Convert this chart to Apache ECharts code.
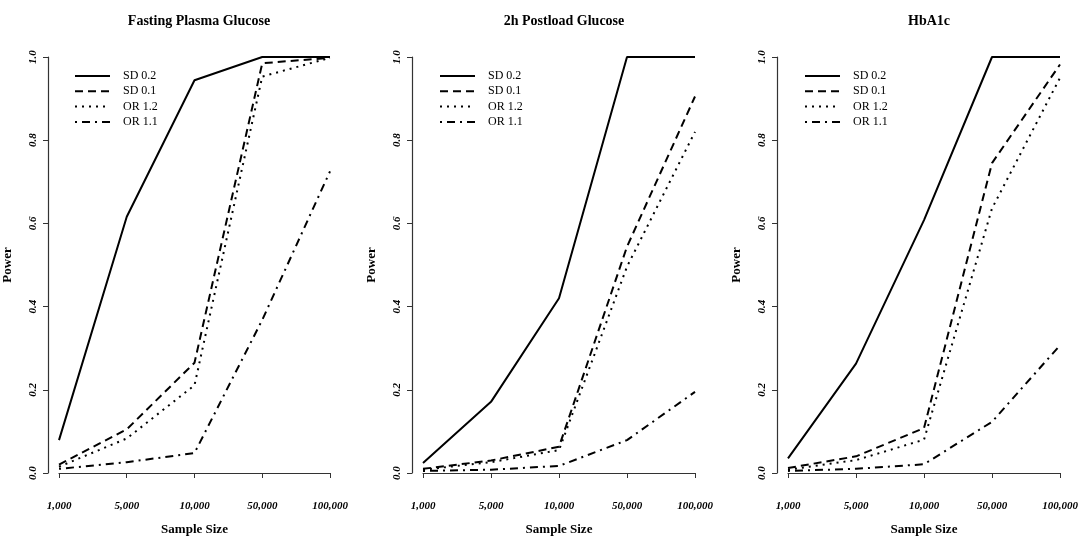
<!DOCTYPE html>
<html>
<head>
<meta charset="utf-8">
<title>Power by sample size</title>
<script src="https://cdn.jsdelivr.net/npm/echarts@6/dist/echarts.min.js"></script>
<style>
	html,body{margin:0;padding:0;background:#fff;}
	#chart{width:1084px;height:543px;}
</style>
</head>
<body>
<div id="chart"></div>
<script>
// sample sizes on the x axis (evenly spaced categories)
var sampleSizes = ['1,000','5,000','10,000','50,000','100,000'];
var seriesNames = ['SD 0.2','SD 0.1','OR 1.2','OR 1.1'];
var panelTitles = ['Fasting Plasma Glucose','2h Postload Glucose','HbA1c'];

// power values
var fpgSd02 = [0.079, 0.616, 0.944, 1.0, 1.0];
var fpgSd01 = [0.020, 0.105, 0.265, 0.985, 0.998];
var fpgOr12 = [0.015, 0.083, 0.211, 0.953, 0.998];
var fpgOr11 = [0.010, 0.026, 0.048, 0.368, 0.725];

var ohSd02 = [0.024, 0.171, 0.420, 1.0, 1.0];
var ohSd01 = [0.010, 0.030, 0.063, 0.544, 0.905];
var ohOr12 = [0.008, 0.026, 0.055, 0.496, 0.820];
var ohOr11 = [0.005, 0.008, 0.017, 0.079, 0.195];

var hbSd02 = [0.035, 0.263, 0.608, 1.0, 1.0];
var hbSd01 = [0.012, 0.040, 0.108, 0.745, 0.982];
var hbOr12 = [0.008, 0.031, 0.080, 0.636, 0.950];
var hbOr11 = [0.005, 0.010, 0.021, 0.123, 0.307];

var panelData = [
	[fpgSd02, fpgSd01, fpgOr12, fpgOr11],
	[ohSd02, ohSd01, ohOr12, ohOr11],
	[hbSd02, hbSd01, hbOr12, hbOr11]
];

var SERIF = '"Liberation Serif", "DejaVu Serif", serif';
var dashTypes = ['solid', [8,5], [2,5], [2,5,8,5]];
var panelLeft = [58, 423, 788];
var plotWidth = 272;

function buildOption(){
	var grids=[], xAxes=[], yAxes=[], series=[], titles=[], legends=[];
	for(var p=0;p<3;p++){
		grids.push({left:panelLeft[p], width:plotWidth, top:57, height:416});
		titles.push({
			text: panelTitles[p],
			left: panelLeft[p] + plotWidth/2,
			top: 9,
			textAlign: 'center',
			textStyle:{fontFamily:SERIF, fontWeight:'bold', fontSize:14, color:'#000'}
		});
		//legend: line only, the dot symbol is hidden
		legends.push({
			data: seriesNames,
			orient: 'vertical',
			left: panelLeft[p] + 16,
			top: 70,
			padding: 0,
			itemWidth: 35,
			itemHeight: 12,
			itemGap: 3.3,
			selectedMode: false,
			itemStyle:{opacity:0},
			textStyle:{fontFamily:SERIF, fontSize:12, color:'#000', padding:[0,0,0,8]}
		});
		xAxes.push({
			type:'category',
			gridIndex:p,
			data: sampleSizes,
			boundaryGap:false,
			offset:17,
			name:'Sample Size',
			nameLocation:'middle',
			nameGap:33,
			nameTextStyle:{fontFamily:SERIF, fontWeight:'bold', fontSize:13, color:'#000'},
			axisLine:{lineStyle:{color:'#333', width:1.2}},
			axisTick:{alignWithLabel:true, length:5, lineStyle:{color:'#333'}},
			axisLabel:{fontFamily:SERIF, fontStyle:'italic', fontWeight:'bold', fontSize:11, color:'#000', margin:11},
			splitLine:{show:false}
		});
		yAxes.push({
			type:'value',
			gridIndex:p,
			min:0,
			max:1,
			interval:0.2,
			offset:11,
			name:'Power',
			nameLocation:'middle',
			nameGap:34,
			nameTextStyle:{fontFamily:SERIF, fontWeight:'bold', fontSize:13, color:'#000'},
			axisLine:{show:true, lineStyle:{color:'#333', width:1.2}},
			axisTick:{show:true, length:5, lineStyle:{color:'#333'}},
			axisLabel:{
				fontFamily:SERIF, fontStyle:'italic', fontWeight:'bold', fontSize:11, color:'#000',
				rotate:90, margin:9,
				formatter:function(v){ return v.toFixed(1); }
			},
			splitLine:{show:false}
		});
		for(var s=0;s<4;s++){
			series.push({
				name: seriesNames[s],
				type:'line',
				xAxisIndex:p,
				yAxisIndex:p,
				data: panelData[p][s],
				symbol:'none',
				silent:true,
				lineStyle:{color:'#000', width:2, type:dashTypes[s]},
				itemStyle:{color:'#000'}
			});
		}
	}
	return {
		backgroundColor:'#fff',
		animation:false,
		title:titles,
		legend:legends,
		grid:grids,
		xAxis:xAxes,
		yAxis:yAxes,
		series:series
	};
}

var myChart = echarts.init(document.getElementById('chart'));
myChart.setOption(buildOption());
</script>
</body>
</html>
